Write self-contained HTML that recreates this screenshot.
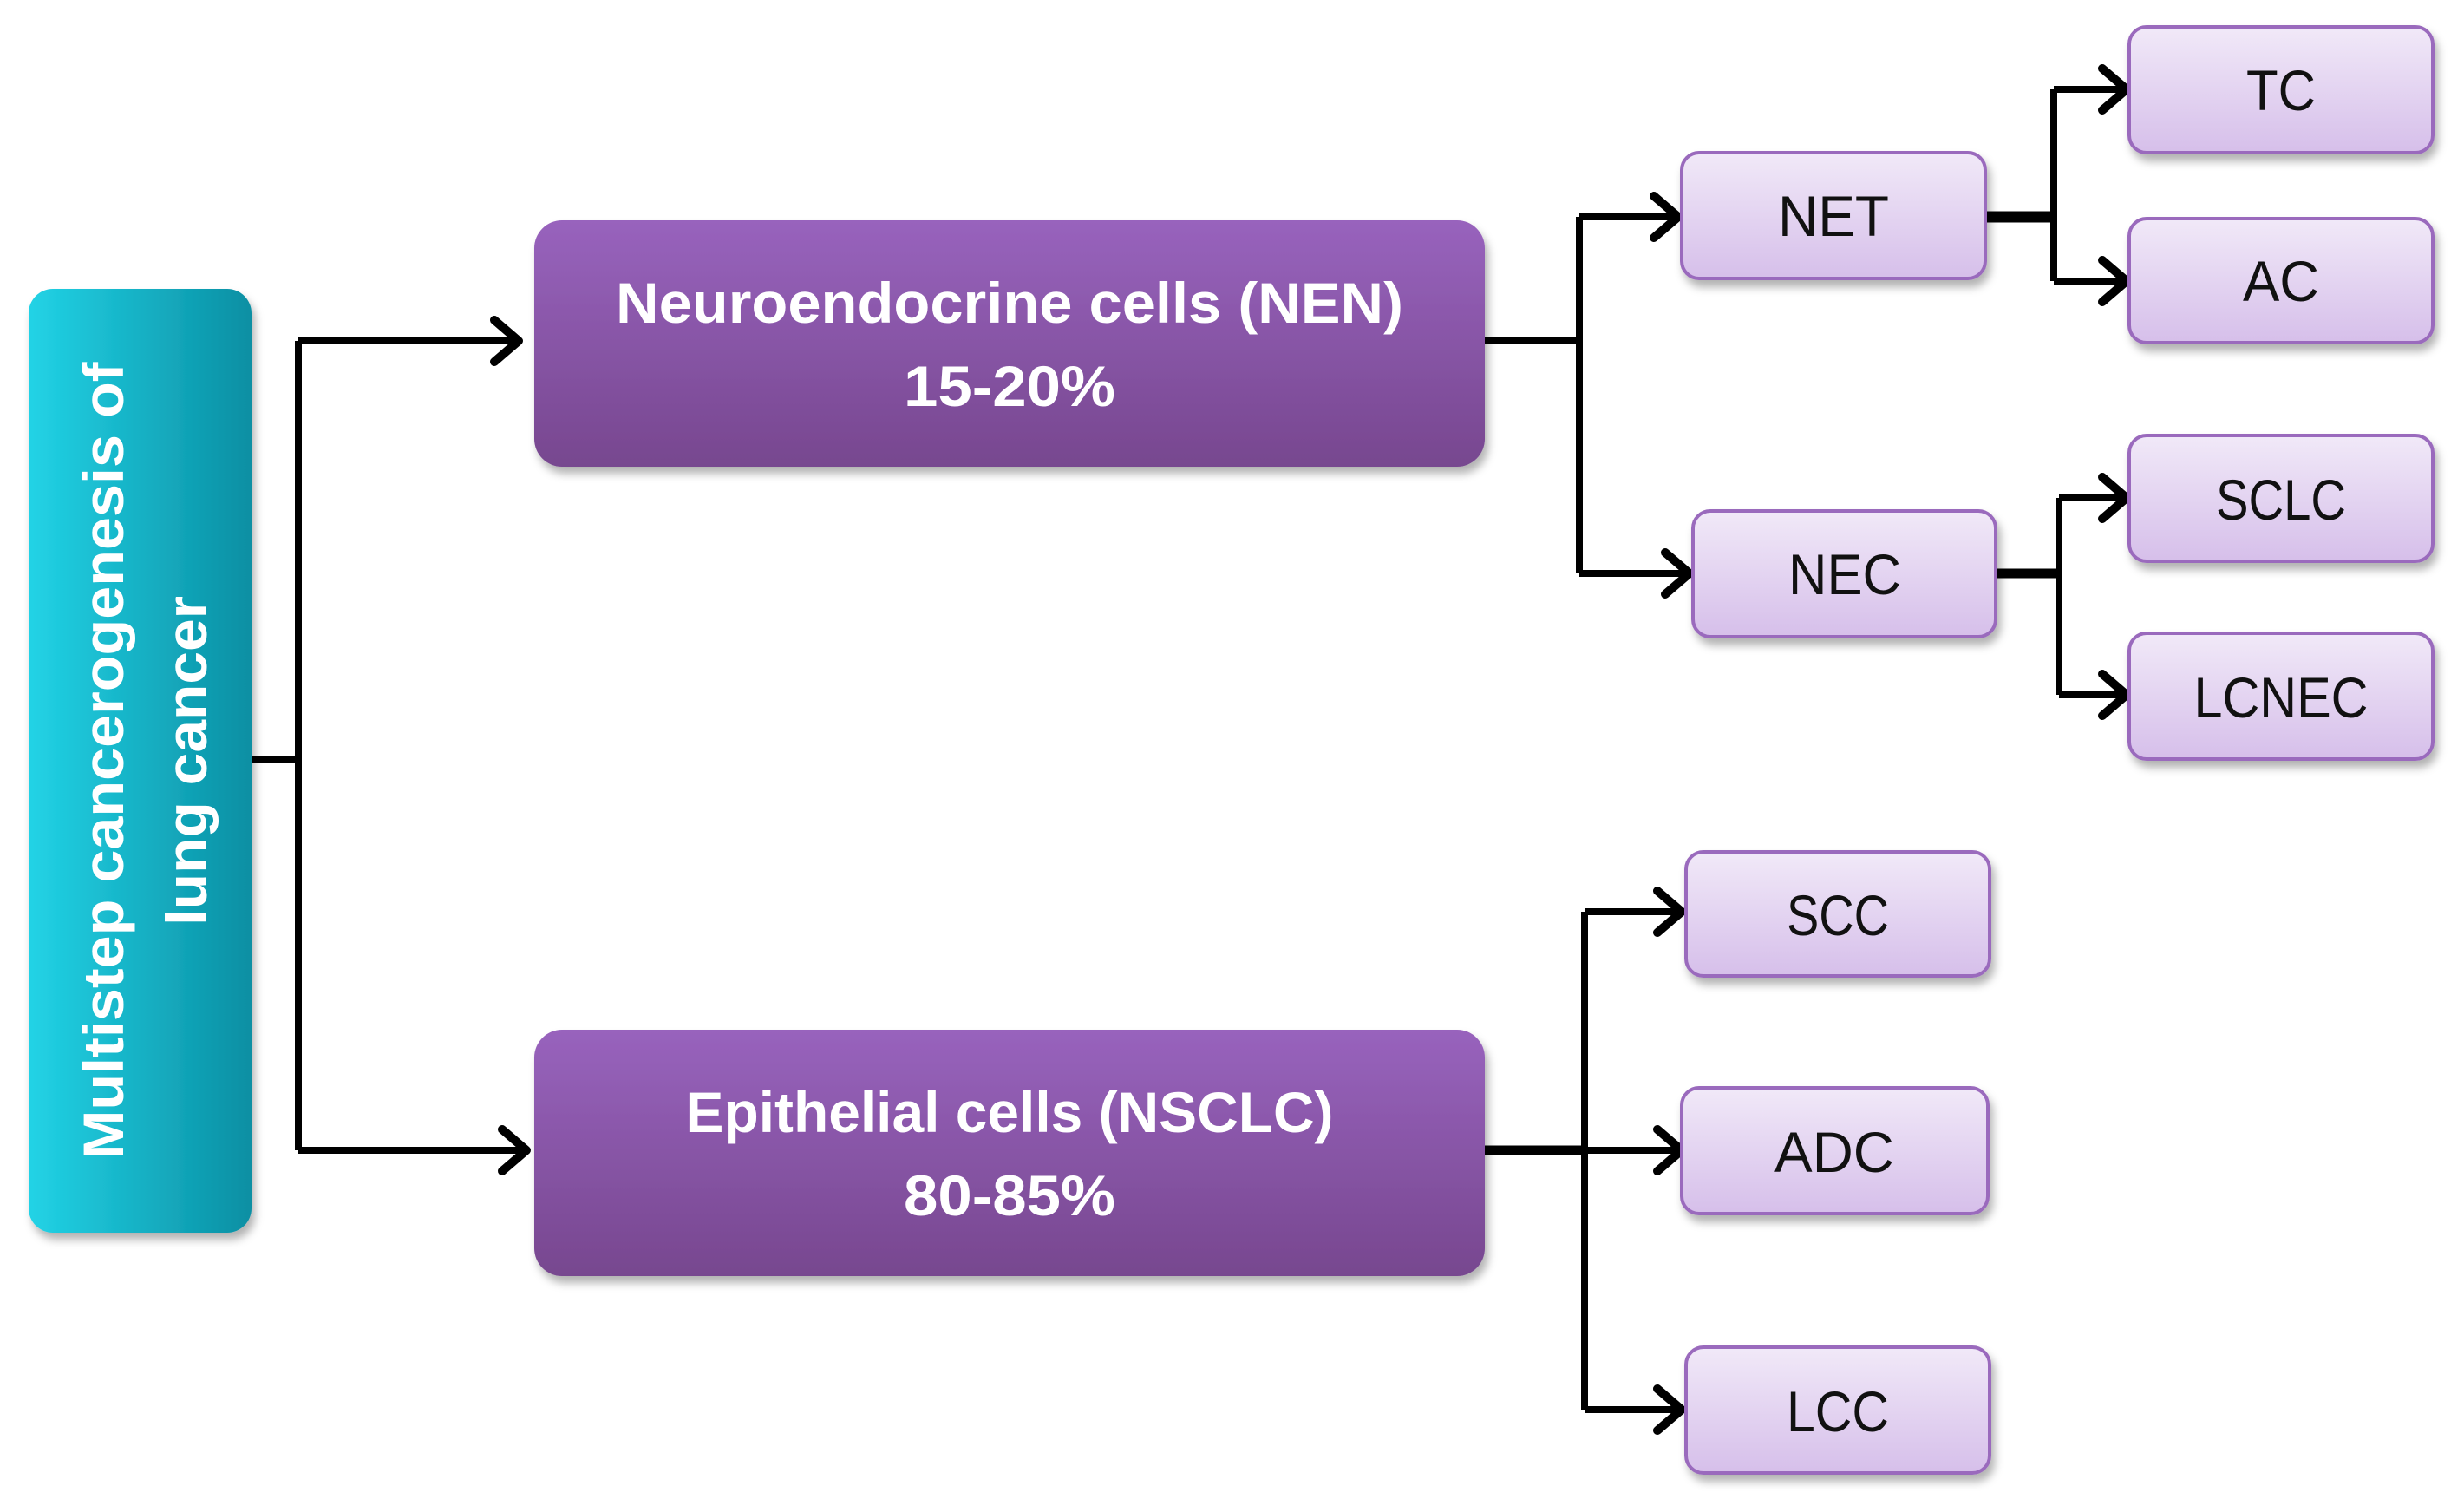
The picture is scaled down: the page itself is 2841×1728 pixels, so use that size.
<!DOCTYPE html>
<html><head><meta charset="utf-8"><style>html,body{margin:0;padding:0;background:#fff}svg{display:block}</style></head>
<body>
<svg width="2841" height="1728" viewBox="0 0 2841 1728" xmlns="http://www.w3.org/2000/svg">
<defs>
<linearGradient id="pg" x1="0" y1="0" x2="0" y2="1"><stop offset="0" stop-color="#9863bd"/><stop offset="1" stop-color="#77478f"/></linearGradient>
<linearGradient id="lg" x1="0" y1="0" x2="0" y2="1"><stop offset="0" stop-color="#f1e9f8"/><stop offset="1" stop-color="#d6bfea"/></linearGradient>
<linearGradient id="tg" x1="0" y1="0" x2="1" y2="0"><stop offset="0" stop-color="#22d3e6"/><stop offset="1" stop-color="#0a8fa3"/></linearGradient>
<filter id="sh" x="-10%" y="-10%" width="130%" height="140%"><feDropShadow dx="4" dy="8" stdDeviation="5" flood-color="#000" flood-opacity="0.3"/></filter>
</defs>
<g fill="none" stroke="#000" stroke-width="8" stroke-linejoin="miter">
<path d="M290 875 H344 M344 393 V1326"/>
<path d="M344 393 H598 M344 1326 H607"/>
<path d="M1712 393 H1821 M1821 250 V661 M1821 250 H1935 M1821 661 H1948"/>
<path d="M2289 250 H2368 M2368 103 V324 M2368 103 H2452 M2368 324 H2452" />
<path d="M2301 661 H2374 M2374 574 V801 M2374 574 H2452 M2374 801 H2452"/>
<path d="M1712 1326 H1827 M1827 1051 V1625 M1827 1051 H1939 M1827 1326 H1939 M1827 1625 H1939"/>
<path d="M2289 250 H2368" stroke-width="13"/>
<path d="M2301 661 H2374" stroke-width="11"/>
<path d="M1712 1326 H1827" stroke-width="11"/>
</g>
<g fill="none" stroke="#000" stroke-width="10" stroke-linecap="round" stroke-linejoin="round">
<path d="M570 369 L598 393 L570 417"/>
<path d="M579 1302 L607 1326 L579 1350"/>
<path d="M1907 226 L1935 250 L1907 274"/>
<path d="M1920 637 L1948 661 L1920 685"/>
<path d="M2424 79 L2452 103 L2424 127"/>
<path d="M2424 300 L2452 324 L2424 348"/>
<path d="M2424 550 L2452 574 L2424 598"/>
<path d="M2424 777 L2452 801 L2424 825"/>
<path d="M1911 1027 L1939 1051 L1911 1075"/>
<path d="M1911 1302 L1939 1326 L1911 1350"/>
<path d="M1911 1601 L1939 1625 L1911 1649"/>
</g>
<rect x="33" y="333" width="257" height="1088" rx="28" fill="url(#tg)" filter="url(#sh)"/>
<rect x="616" y="254" width="1096" height="284" rx="32" fill="url(#pg)" filter="url(#sh)"/>
<rect x="616" y="1187" width="1096" height="284" rx="32" fill="url(#pg)" filter="url(#sh)"/>
<g fill="url(#lg)" stroke="#9a6abd" stroke-width="4" filter="url(#sh)">
<rect x="1939" y="176" width="350" height="145" rx="20"/>
<rect x="1952" y="589" width="349" height="145" rx="20"/>
<rect x="2455" y="31" width="350" height="145" rx="20"/>
<rect x="2455" y="252" width="350" height="143" rx="20"/>
<rect x="2455" y="502" width="350" height="145" rx="20"/>
<rect x="2455" y="730" width="350" height="145" rx="20"/>
<rect x="1944" y="982" width="350" height="143" rx="20"/>
<rect x="1939" y="1254" width="353" height="145" rx="20"/>
<rect x="1944" y="1553" width="350" height="145" rx="20"/>
</g>
<g font-family="Liberation Sans, sans-serif" font-weight="bold" fill="#fff" text-anchor="middle" font-size="66">
<text x="1164" y="372" textLength="908" lengthAdjust="spacingAndGlyphs">Neuroendocrine cells (NEN)</text>
<text x="1164" y="468" textLength="244" lengthAdjust="spacingAndGlyphs">15-20%</text>
<text x="1164" y="1305" textLength="747" lengthAdjust="spacingAndGlyphs">Epithelial cells (NSCLC)</text>
<text x="1164" y="1401" textLength="244" lengthAdjust="spacingAndGlyphs">80-85%</text>
<g transform="translate(142,877) rotate(-90)"><text x="0" y="0" textLength="919" lengthAdjust="spacingAndGlyphs">Multistep cancerogenesis of</text></g>
<g transform="translate(238,877) rotate(-90)"><text x="0" y="0" textLength="380" lengthAdjust="spacingAndGlyphs">lung cancer</text></g>
</g>
<g font-family="Liberation Sans, sans-serif" fill="#111" text-anchor="middle" font-size="66">
<text x="2114" y="272" textLength="128" lengthAdjust="spacingAndGlyphs">NET</text>
<text x="2127" y="685" textLength="130" lengthAdjust="spacingAndGlyphs">NEC</text>
<text x="2630" y="127" textLength="80" lengthAdjust="spacingAndGlyphs">TC</text>
<text x="2630" y="347" textLength="88" lengthAdjust="spacingAndGlyphs">AC</text>
<text x="2630" y="599" textLength="150" lengthAdjust="spacingAndGlyphs">SCLC</text>
<text x="2630" y="827" textLength="201" lengthAdjust="spacingAndGlyphs">LCNEC</text>
<text x="2119" y="1078" textLength="118" lengthAdjust="spacingAndGlyphs">SCC</text>
<text x="2115" y="1351" textLength="138" lengthAdjust="spacingAndGlyphs">ADC</text>
<text x="2119" y="1650" textLength="118" lengthAdjust="spacingAndGlyphs">LCC</text>
</g>
</svg>
</body></html>
